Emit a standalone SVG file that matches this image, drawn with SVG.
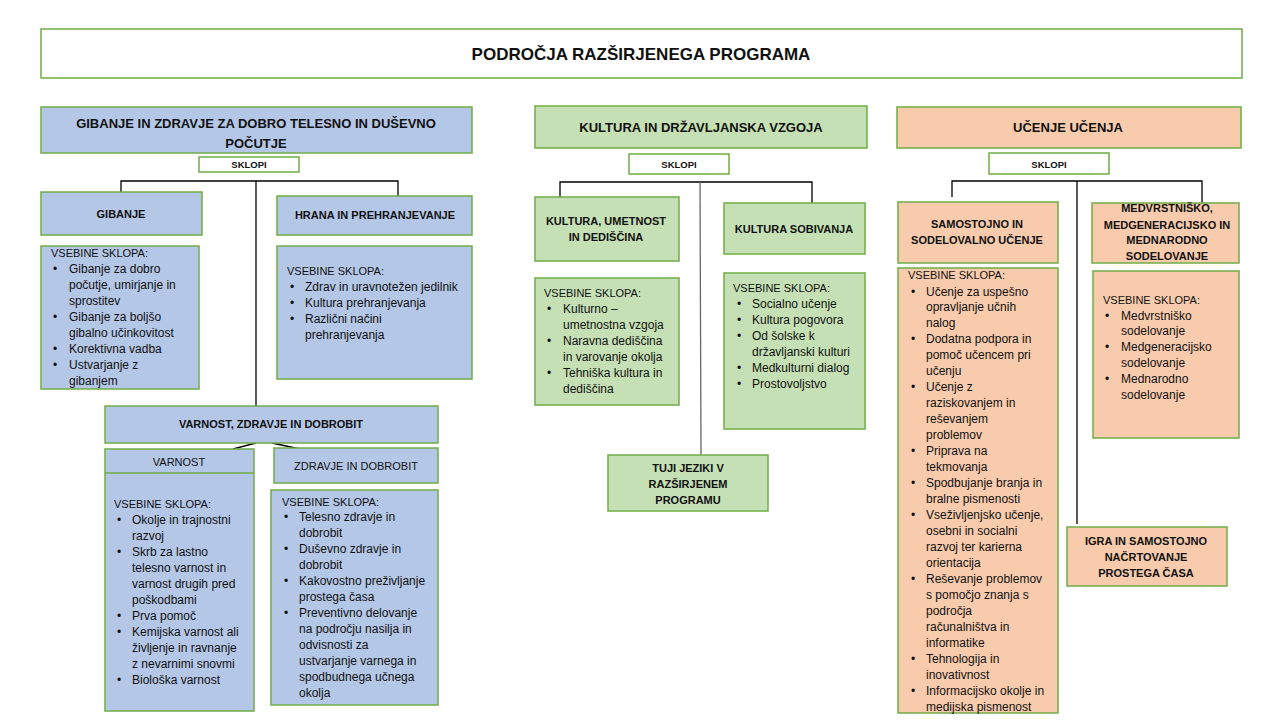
<svg xmlns="http://www.w3.org/2000/svg" width="1280" height="720" viewBox="0 0 1280 720">
<style>
.box{stroke:#70AD47;stroke-width:1.5}
.blue{fill:#B4C7E7}.green{fill:#C5E0B4}.orange{fill:#F8CBAD}.white{fill:#FFFFFF}
text{font-family:"Liberation Sans",Arial,sans-serif;fill:#111}
.t{font-size:17px;font-weight:bold;text-anchor:middle}
.h{font-size:13px;font-weight:bold;text-anchor:middle}
.s{font-size:11px;font-weight:bold;text-anchor:middle}
.k{font-size:9.5px;font-weight:bold;text-anchor:middle}
.u{font-size:11px;text-anchor:middle}
.c{font-size:12px}
.v{font-size:11px}
.conn{fill:none;stroke:#000;stroke-width:1.3}
.gray{stroke:#666}
</style>
<rect width="1280" height="720" fill="#fff"/>
<g id="title"><rect class="box white" x="41" y="29" width="1201" height="49"/><text class="t" x="641" y="60">PODROČJA RAZŠIRJENEGA PROGRAMA</text></g>

<g id="connectors">
<polyline class="conn" points="121,196 121,181 398,181 398,196"/>
<line class="conn" x1="256" y1="181" x2="256" y2="406"/>
<line class="conn" x1="233" y1="449" x2="256" y2="443"/>
<line class="conn" x1="272" y1="443" x2="300" y2="449"/>
<polyline class="conn" points="560,197 560,182 812,182 812,205"/>
<line class="conn gray" x1="700" y1="182" x2="701" y2="455"/>
<polyline class="conn" points="952,197 952,181 1202,181 1202,203"/>
<line class="conn" x1="1077" y1="181" x2="1077" y2="524"/>
</g>

<!-- LEFT -->
<g id="gibanje-zdravje"><rect class="box blue" x="41" y="107" width="431" height="46"/><text class="h" x="256" y="128">GIBANJE IN ZDRAVJE ZA DOBRO TELESNO IN DUŠEVNO</text><text class="h" x="256" y="148">POČUTJE</text></g>
<g id="sklopi-1"><rect class="box white" x="199" y="157" width="100" height="15"/><text class="k" x="249" y="168">SKLOPI</text></g>
<g id="gibanje"><rect class="box blue" x="41" y="192" width="161" height="43"/><text class="s" x="121" y="218">GIBANJE</text></g>
<g id="hrana"><rect class="box blue" x="277" y="196" width="195" height="39"/><text class="s" x="375" y="219">HRANA IN PREHRANJEVANJE</text></g>
<g id="gibanje-vsebine"><rect class="box blue" x="41" y="246" width="158" height="143"/>
<text class="v" x="51" y="257">VSEBINE SKLOPA:</text>
<text class="c" x="53" y="273">•</text><text class="c" x="53" y="321">•</text><text class="c" x="53" y="353">•</text><text class="c" x="53" y="369">•</text>
<text class="c" x="69" y="273">Gibanje za dobro</text>
<text class="c" x="69" y="289">počutje, umirjanje in</text>
<text class="c" x="69" y="305">sprostitev</text>
<text class="c" x="69" y="321">Gibanje za boljšo</text>
<text class="c" x="69" y="337">gibalno učinkovitost</text>
<text class="c" x="69" y="353">Korektivna vadba</text>
<text class="c" x="69" y="369">Ustvarjanje z</text>
<text class="c" x="69" y="385">gibanjem</text>
</g>
<g id="hrana-vsebine"><rect class="box blue" x="277" y="246" width="195" height="133"/>
<text class="v" x="287" y="275">VSEBINE SKLOPA:</text>
<text class="c" x="290" y="291">•</text><text class="c" x="290" y="307">•</text><text class="c" x="290" y="323">•</text>
<text class="c" x="305" y="291">Zdrav in uravnotežen jedilnik</text>
<text class="c" x="305" y="307">Kultura prehranjevanja</text>
<text class="c" x="305" y="323">Različni načini</text>
<text class="c" x="305" y="339">prehranjevanja</text>
</g>
<g id="varnost-zdravje"><rect class="box blue" x="105" y="406" width="333" height="37"/><text class="s" x="271" y="428">VARNOST, ZDRAVJE IN DOBROBIT</text></g>
<g id="varnost"><rect class="box blue" x="105" y="449" width="149" height="262"/><line x1="105" y1="473" x2="254" y2="473" stroke="#70AD47" stroke-width="1.5"/>
<text class="u" x="179" y="466">VARNOST</text>
<text class="v" x="114" y="508">VSEBINE SKLOPA:</text>
<text class="c" x="117" y="524">•</text><text class="c" x="117" y="556">•</text><text class="c" x="117" y="620">•</text><text class="c" x="117" y="636">•</text><text class="c" x="117" y="684">•</text>
<text class="c" x="132" y="524">Okolje in trajnostni</text>
<text class="c" x="132" y="540">razvoj</text>
<text class="c" x="132" y="556">Skrb za lastno</text>
<text class="c" x="132" y="572">telesno varnost in</text>
<text class="c" x="132" y="588">varnost drugih pred</text>
<text class="c" x="132" y="604">poškodbami</text>
<text class="c" x="132" y="620">Prva pomoč</text>
<text class="c" x="132" y="636">Kemijska varnost ali</text>
<text class="c" x="132" y="652">življenje in ravnanje</text>
<text class="c" x="132" y="668">z nevarnimi snovmi</text>
<text class="c" x="132" y="684">Biološka varnost</text>
</g>
<g id="zdravje"><rect class="box blue" x="274" y="448" width="164" height="35"/><text class="u" x="356" y="470">ZDRAVJE  IN DOBROBIT</text></g>
<g id="zdravje-vsebine"><rect class="box blue" x="271" y="490" width="167" height="215"/>
<text class="v" x="282" y="506">VSEBINE SKLOPA:</text>
<text class="c" x="284" y="521">•</text><text class="c" x="284" y="553">•</text><text class="c" x="284" y="585">•</text><text class="c" x="284" y="617">•</text>
<text class="c" x="299" y="521">Telesno zdravje in</text>
<text class="c" x="299" y="537">dobrobit</text>
<text class="c" x="299" y="553">Duševno zdravje in</text>
<text class="c" x="299" y="569">dobrobit</text>
<text class="c" x="299" y="585">Kakovostno preživljanje</text>
<text class="c" x="299" y="601">prostega časa</text>
<text class="c" x="299" y="617">Preventivno delovanje</text>
<text class="c" x="299" y="633">na področju nasilja in</text>
<text class="c" x="299" y="649">odvisnosti za</text>
<text class="c" x="299" y="665">ustvarjanje varnega in</text>
<text class="c" x="299" y="681">spodbudnega učnega</text>
<text class="c" x="299" y="697">okolja</text>
</g>

<!-- MIDDLE -->
<g id="kultura-drzavljanska"><rect class="box green" x="535" y="106" width="332" height="42"/><text class="h" x="701" y="132">KULTURA IN DRŽAVLJANSKA VZGOJA</text></g>
<g id="sklopi-2"><rect class="box white" x="629" y="154" width="100" height="20"/><text class="k" x="679" y="168">SKLOPI</text></g>
<g id="kultura-umetnost"><rect class="box green" x="535" y="197" width="144" height="64"/><text class="s" x="606" y="225">KULTURA,  UMETNOST</text><text class="s" x="606" y="241">IN DEDIŠČINA</text></g>
<g id="kultura-sobivanja"><rect class="box green" x="724" y="203" width="141" height="51"/><text class="s" x="794" y="233">KULTURA  SOBIVANJA</text></g>
<g id="kultura-umetnost-vsebine"><rect class="box green" x="535" y="278" width="144" height="127"/>
<text class="v" x="544" y="297">VSEBINE SKLOPA:</text>
<text class="c" x="547" y="313">•</text><text class="c" x="547" y="345">•</text><text class="c" x="547" y="377">•</text>
<text class="c" x="563" y="313">Kulturno –</text>
<text class="c" x="563" y="329">umetnostna vzgoja</text>
<text class="c" x="563" y="345">Naravna dediščina</text>
<text class="c" x="563" y="361">in varovanje okolja</text>
<text class="c" x="563" y="377">Tehniška kultura in</text>
<text class="c" x="563" y="393">dediščina</text>
</g>
<g id="kultura-sobivanja-vsebine"><rect class="box green" x="724" y="273" width="141" height="156"/>
<text class="v" x="733" y="292">VSEBINE SKLOPA:</text>
<text class="c" x="737" y="308">•</text><text class="c" x="737" y="324">•</text><text class="c" x="737" y="340">•</text><text class="c" x="737" y="372">•</text><text class="c" x="737" y="388">•</text>
<text class="c" x="752" y="308">Socialno učenje</text>
<text class="c" x="752" y="324">Kultura pogovora</text>
<text class="c" x="752" y="340">Od šolske k</text>
<text class="c" x="752" y="356">državljanski kulturi</text>
<text class="c" x="752" y="372">Medkulturni dialog</text>
<text class="c" x="752" y="388">Prostovoljstvo</text>
</g>
<g id="tuji-jeziki"><rect class="box green" x="608" y="455" width="160" height="56"/><text class="s" x="688" y="472">TUJI  JEZIKI  V</text><text class="s" x="688" y="488">RAZŠIRJENEM</text><text class="s" x="688" y="504">PROGRAMU</text></g>

<!-- RIGHT -->
<g id="ucenje-ucenja"><rect class="box orange" x="897" y="107" width="344" height="41"/><text class="h" x="1068" y="132">UČENJE UČENJA</text></g>
<g id="sklopi-3"><rect class="box white" x="989" y="153" width="120" height="21"/><text class="k" x="1049" y="168">SKLOPI</text></g>
<g id="samostojno"><rect class="box orange" x="898" y="202" width="160" height="61"/><text class="s" x="977" y="228">SAMOSTOJNO  IN</text><text class="s" x="977" y="244">SODELOVALNO UČENJE</text></g>
<g id="medvrstnisko"><rect class="box orange" x="1092" y="203" width="147" height="60"/><text class="s" x="1167" y="212">MEDVRSTNIŠKO,</text><text class="s" x="1167" y="229">MEDGENERACIJSKO   IN</text><text class="s" x="1167" y="244">MEDNARODNO</text><text class="s" x="1167" y="260">SODELOVANJE</text></g>
<g id="samostojno-vsebine"><rect class="box orange" x="898" y="268" width="160" height="445"/>
<text class="v" x="908" y="279">VSEBINE SKLOPA:</text>
<text class="c" x="911" y="296">•</text><text class="c" x="911" y="343">•</text><text class="c" x="911" y="391">•</text><text class="c" x="911" y="455">•</text><text class="c" x="911" y="487">•</text><text class="c" x="911" y="519">•</text><text class="c" x="911" y="583">•</text><text class="c" x="911" y="663">•</text><text class="c" x="911" y="695">•</text>
<text class="c" x="926" y="296">Učenje za uspešno</text>
<text class="c" x="926" y="311">opravljanje učnih</text>
<text class="c" x="926" y="327">nalog</text>
<text class="c" x="926" y="343">Dodatna podpora in</text>
<text class="c" x="926" y="359">pomoč učencem pri</text>
<text class="c" x="926" y="375">učenju</text>
<text class="c" x="926" y="391">Učenje z</text>
<text class="c" x="926" y="407">raziskovanjem in</text>
<text class="c" x="926" y="423">reševanjem</text>
<text class="c" x="926" y="439">problemov</text>
<text class="c" x="926" y="455">Priprava na</text>
<text class="c" x="926" y="471">tekmovanja</text>
<text class="c" x="926" y="487">Spodbujanje branja in</text>
<text class="c" x="926" y="503">bralne pismenosti</text>
<text class="c" x="926" y="519">Vseživljenjsko učenje,</text>
<text class="c" x="926" y="535">osebni in socialni</text>
<text class="c" x="926" y="551">razvoj ter karierna</text>
<text class="c" x="926" y="567">orientacija</text>
<text class="c" x="926" y="583">Reševanje problemov</text>
<text class="c" x="926" y="599">s pomočjo znanja s</text>
<text class="c" x="926" y="615">področja</text>
<text class="c" x="926" y="631">računalništva in</text>
<text class="c" x="926" y="647">informatike</text>
<text class="c" x="926" y="663">Tehnologija in</text>
<text class="c" x="926" y="679">inovativnost</text>
<text class="c" x="926" y="695">Informacijsko okolje in</text>
<text class="c" x="926" y="711">medijska pismenost</text>
</g>
<g id="medvrstnisko-vsebine"><rect class="box orange" x="1093" y="271" width="146" height="167"/>
<text class="v" x="1103" y="304">VSEBINE SKLOPA:</text>
<text class="c" x="1105" y="320">•</text><text class="c" x="1105" y="351">•</text><text class="c" x="1105" y="383">•</text>
<text class="c" x="1121" y="320">Medvrstniško</text>
<text class="c" x="1121" y="335">sodelovanje</text>
<text class="c" x="1121" y="351">Medgeneracijsko</text>
<text class="c" x="1121" y="367">sodelovanje</text>
<text class="c" x="1121" y="383">Mednarodno</text>
<text class="c" x="1121" y="399">sodelovanje</text>
</g>
<g id="igra"><rect class="box orange" x="1067" y="527" width="160" height="59"/><text class="s" x="1146" y="545">IGRA IN SAMOSTOJNO</text><text class="s" x="1146" y="561">NAČRTOVANJE</text><text class="s" x="1146" y="577">PROSTEGA  ČASA</text></g>
</svg>
